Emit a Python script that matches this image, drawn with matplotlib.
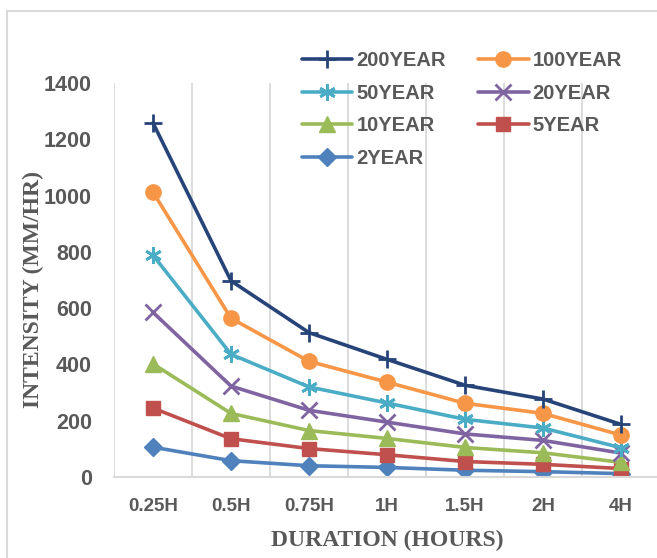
import numpy as np
import matplotlib
matplotlib.use("Agg")
from matplotlib import pyplot as plt
from matplotlib.patches import Rectangle

durations = ['0.25H', '0.5H', '0.75H', '1H', '1.5H', '2H', '4H']
y200 = [1258, 697, 513, 418, 326, 277, 187]
y100 = [1012, 564, 411, 337, 262, 226, 149]
y50 = [788, 436, 320, 263, 205, 174, 104]
y20 = [585, 323, 237, 195, 153, 130, 85]
y10 = [402, 226, 165, 137, 105, 86, 52]
y5 = [245, 136, 101, 79, 55, 45, 30]
y2 = [106, 58, 40, 34, 24, 19, 12]

series = [
    ('2YEAR', y2, '#4F81BD', 'D', 9, 1),
    ('5YEAR', y5, '#C0504D', 's', 10, 1),
    ('10YEAR', y10, '#9BBB59', '^', 11, 1),
    ('20YEAR', y20, '#8064A2', 'x', 11, 2),
    ('50YEAR', y50, '#4BACC6', (6, 2, 0), 12, 2),
    ('100YEAR', y100, '#F79646', 'o', 11, 1),
    ('200YEAR', y200, '#264478', '+', 13, 2),
]

fig = plt.figure(figsize=(6.57, 5.58), dpi=100)
ax = fig.add_axes([114 / 657, 81 / 558, 546 / 657, 394 / 558])

x = np.arange(len(durations))
handles = {}
for name, vals, color, mk, ms, mew in series:
    h, = ax.plot(x, vals, color=color, lw=2.6, marker=mk, ms=ms, mew=mew,
                 mec=color, mfc=color, label=name, solid_capstyle='round')
    handles[name] = h

ax.set_xlim(-0.5, len(durations) - 0.5)
ax.set_ylim(0, 1400)
ax.set_yticks(np.arange(0, 1401, 200))
ax.set_xticks(x)
ax.set_xticklabels(durations)
ax.set_xticks(np.arange(len(durations) + 1) - 0.5, minor=True)
ax.grid(True, which='minor', axis='x', color='#d9d9d9', lw=1.3)
ax.tick_params(which='both', length=0)
ax.tick_params(axis='y', pad=16, labelsize=15.5, labelcolor='#595959')
ax.tick_params(axis='x', pad=15, labelsize=13.5, labelcolor='#595959')
for lbl in ax.get_xticklabels() + ax.get_yticklabels():
    lbl.set_fontfamily('Liberation Sans')
    lbl.set_fontweight('bold')
for s in ['top', 'right', 'left']:
    ax.spines[s].set_visible(False)
ax.spines['bottom'].set_color('#d9d9d9')
ax.spines['bottom'].set_linewidth(1.5)

fig.text(387 / 657, 1 - 540 / 558, 'DURATION (HOURS)', ha='center', va='center',
         fontsize=17, fontweight='bold', family='Liberation Serif', color='#595959')
fig.text(33 / 657, 1 - 290 / 558, 'INTENSITY (MM/HR)', ha='center', va='center',
         rotation=90, fontsize=17, fontweight='bold', family='Liberation Serif',
         color='#595959')

order = ['200YEAR', '50YEAR', '10YEAR', '2YEAR', '100YEAR', '20YEAR', '5YEAR']
leg = fig.legend([handles[n] for n in order], order, ncol=2, loc='upper left',
                 bbox_to_anchor=(292 / 657, 1 - 41 / 558), frameon=False,
                 borderpad=0, handlelength=2.5, handletextpad=0.2,
                 columnspacing=1.6, labelspacing=0.68,
                 prop={'family': 'Liberation Sans', 'weight': 'bold', 'size': 14.5})
for t in leg.get_texts():
    t.set_color('#595959')

fig.patches.append(Rectangle((7 / 657, -0.1), 2, 1 - 11 / 558 + 0.1,
                             transform=fig.transFigure, fill=False,
                             edgecolor='#d9d9d9', lw=1.5))

fig.savefig('out.png', dpi=100)
